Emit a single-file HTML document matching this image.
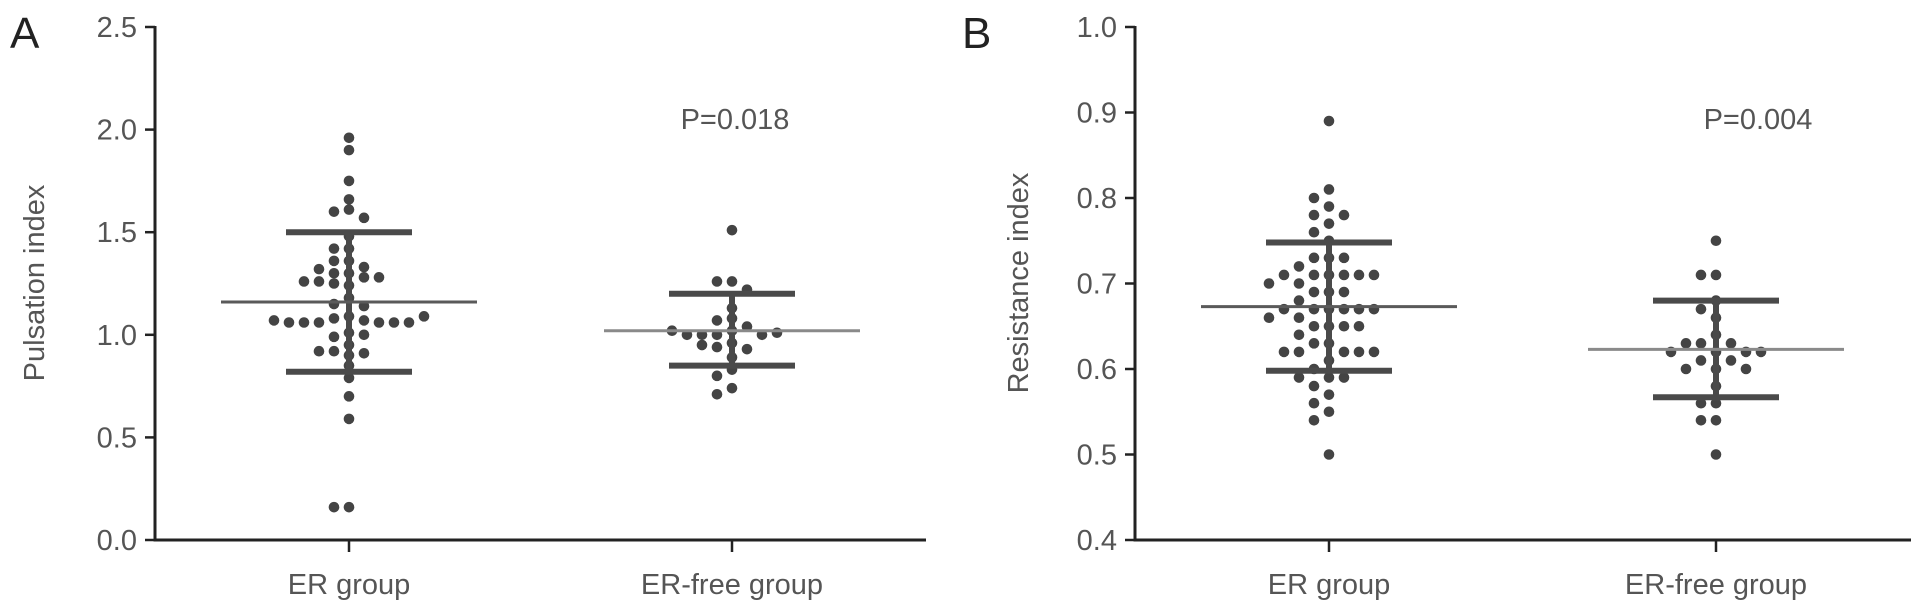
<!DOCTYPE html>
<html><head><meta charset="utf-8"><style>
html,body{margin:0;padding:0;background:#fff;}
svg{display:block;font-family:"Liberation Sans",sans-serif;}
</style></head><body>
<svg id="chart" width="1913" height="611" viewBox="0 0 1913 611"></svg>
<script>
const categories = ["ER group", "ER-free group"];
const erPI = [1.96,1.9,1.75,1.66,1.61,1.60,1.57,1.48,1.42,1.42,1.36,1.36,1.33,1.32,1.30,1.30,1.28,1.28,1.26,1.26,1.24,1.25,1.18,1.15,1.14,1.09,1.08,1.07,1.06,1.06,1.06,1.06,1.06,1.06,1.07,1.09,1.01,0.99,1.00,0.95,0.92,0.91,0.90,0.92,0.85,0.79,0.70,0.59,0.16,0.16];
const freePI = [1.51,1.26,1.26,1.22,1.13,1.08,1.07,1.04,1.02,1.0,1.0,1.0,1.0,1.01,1.02,0.96,0.94,0.93,0.95,0.89,0.83,0.80,0.74,0.71];
const erRI = [0.89,0.81,0.80,0.79,0.78,0.78,0.77,0.76,0.75,0.73,0.73,0.73,0.72,0.71,0.71,0.71,0.71,0.71,0.71,0.70,0.70,0.69,0.69,0.69,0.68,0.67,0.67,0.67,0.67,0.67,0.67,0.66,0.66,0.65,0.65,0.65,0.65,0.64,0.63,0.63,0.62,0.62,0.62,0.62,0.62,0.61,0.60,0.59,0.59,0.59,0.58,0.57,0.56,0.55,0.54,0.50];
const freeRI = [0.75,0.71,0.71,0.68,0.67,0.66,0.64,0.63,0.63,0.63,0.62,0.62,0.62,0.62,0.61,0.61,0.60,0.60,0.60,0.58,0.56,0.56,0.54,0.54,0.50];
const piMean = [1.16, 1.02];
const piSDlo = [0.82, 0.85];
const piSDhi = [1.50, 1.20];
const riMean = [0.673, 0.623];
const riSDlo = [0.598, 0.567];
const riSDhi = [0.748, 0.680];
const piTicks = ["0.0","0.5","1.0","1.5","2.0","2.5"];
const riTicks = ["0.4","0.5","0.6","0.7","0.8","0.9","1.0"];
const pValues = ["P=0.018","P=0.004"];

const svg = document.getElementById('chart');
const NS = 'http://www.w3.org/2000/svg';
function mk(tag, attrs, parent){const e=document.createElementNS(NS,tag);for(const k in attrs)e.setAttribute(k,attrs[k]);(parent||svg).appendChild(e);return e;}

function panel(o){
  const g = mk('g',{});
  
  
  const y = v => o.y0 + (v - o.min)/(o.max - o.min)*(o.y1 - o.y0);
  const xc = [o.x1c, o.x2c];
  const ya = mk('line',{x1:o.ax,y1:o.y1-1,x2:o.ax,y2:o.y0+1.5,stroke:'#222','stroke-width':3},g);
  
  
  const xa = mk('line',{x1:o.ax-1.5,y1:o.y0,x2:o.xend,y2:o.y0,stroke:'#222','stroke-width':3},g);
  
  
  o.ticks.forEach(t=>{
    const v=parseFloat(t), yy=y(v);
    mk('line',{x1:o.ax-10,y1:yy,x2:o.ax,y2:yy,stroke:'#222','stroke-width':2.5},g);
    const tx = mk('text',{x:o.ax-18,y:yy+10,'text-anchor':'end','font-size':29,fill:'#555'},g);
    tx.textContent=t;
    
    
  });
  categories.forEach((c,i)=>{
    mk('line',{x1:xc[i],y1:o.y0,x2:xc[i],y2:o.y0+12,stroke:'#222','stroke-width':2.5},g);
    const tx = mk('text',{x:xc[i],y:594,'text-anchor':'middle','font-size':29,fill:'#555'},g);
    tx.textContent=c;
    
    
  });
  const yt = mk('text',{x:0,y:0,'text-anchor':'middle','font-size':29,fill:'#555',transform:`translate(${o.ylx},283) rotate(-90)`},g);
  yt.textContent=o.ytitle;
  
  
  const lt = mk('text',{x:o.lx,y:48,'font-size':44,fill:'#222'},g);
  lt.textContent=o.letter;
  
  
  const pt = mk('text',{x:o.px,y:129,'text-anchor':'middle','font-size':29,fill:'#555'},g);
  pt.textContent=o.p;
  
  
  [o.d1,o.d2].forEach((arr,i)=>{
    const placed=[];
    arr.forEach(v=>{
      const yy=y(v); let off=0;
      for(let k=0;k<40;k++){
        const cand = k===0?0:(k%2?-1:1)*Math.ceil(k/2)*15;
        if(placed.every(p=>!(Math.abs(p[0]-cand)<14 && Math.abs(p[1]-yy)<10))){off=cand;break;}
      }
      placed.push([off,yy]);
      const c = mk('circle',{cx:xc[i]+off,cy:yy,r:5.3,fill:'#444'},g);
      
      
    });
  });
  [0,1].forEach(i=>{
    const vl = mk('line',{x1:xc[i],y1:y(o.lo[i]),x2:xc[i],y2:y(o.hi[i]),stroke:'#4a4a4a','stroke-width':6},g);
    
    
    [o.lo[i],o.hi[i]].forEach(v=>{
      const b = mk('line',{x1:xc[i]-63,y1:y(v),x2:xc[i]+63,y2:y(v),stroke:'#4a4a4a','stroke-width':6},g);
      
      
    });
    const m = mk('line',{x1:xc[i]-128,y1:y(o.mean[i]),x2:xc[i]+128,y2:y(o.mean[i]),stroke:i?'#8a8a8a':'#5a5a5a','stroke-width':3},g);
    
    
  });
}
panel({name:'panel-a',ax:155,y0:540,y1:27,min:0,max:2.5,x1c:349,x2c:732,xend:926,ticks:piTicks,ytitle:'Pulsation index',ylx:44,letter:'A',lx:10,p:pValues[0],px:735,d1:erPI,d2:freePI,mean:piMean,lo:piSDlo,hi:piSDhi});
panel({name:'panel-b',ax:1135,y0:540,y1:27,min:0.4,max:1.0,x1c:1329,x2c:1716,xend:1911,ticks:riTicks,ytitle:'Resistance index',ylx:1028,letter:'B',lx:962,p:pValues[1],px:1758,d1:erRI,d2:freeRI,mean:riMean,lo:riSDlo,hi:riSDhi});
</script>
</body></html>
